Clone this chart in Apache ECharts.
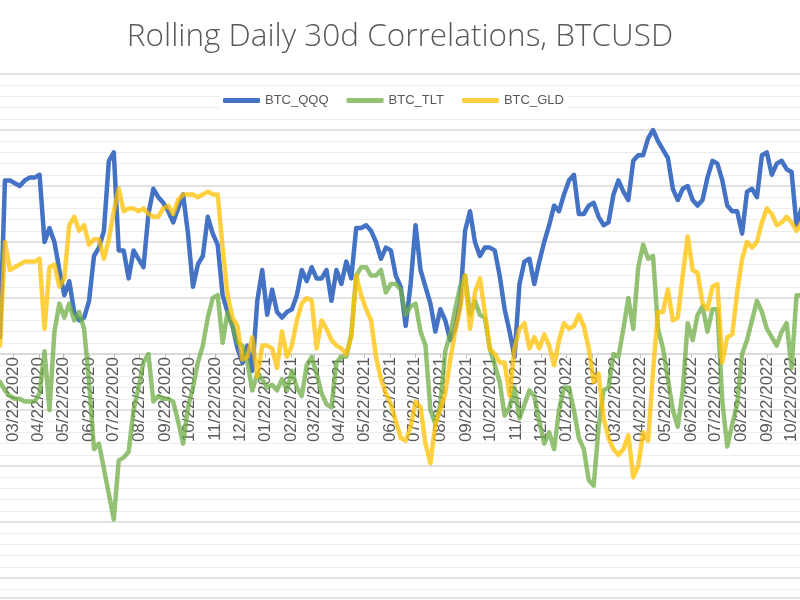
<!DOCTYPE html>
<html>
<head>
<meta charset="utf-8">
<script src="https://cdn.jsdelivr.net/npm/echarts@6/dist/echarts.min.js"></script>
<style>
html,body{margin:0;padding:0;background:#fff;}
#chart{width:800px;height:600px;}
</style>
</head>
<body>
<div id="chart"></div>
<script>
// Samples every 6 days starting 2020-03-06
const sampleStart = [2020, 2, 6];
const sampleStepDays = 6;

const seriesNames = ['BTC_QQQ', 'BTC_TLT', 'BTC_GLD'];

const qqq = [
  0.06, 0.62, 0.62, 0.61, 0.60, 0.62, 0.63, 0.63, 0.64, 0.40,
  0.45, 0.40, 0.30, 0.21, 0.26, 0.15, 0.12, 0.13, 0.19, 0.35,
  0.38, 0.44, 0.69, 0.72, 0.37, 0.37, 0.27, 0.37, 0.34, 0.31,
  0.50, 0.59, 0.56, 0.54, 0.51, 0.47, 0.52, 0.57, 0.43, 0.24, 0.32,
  0.35, 0.49, 0.43, 0.39, 0.21, 0.15, 0.10, 0.02, -0.03, 0.03,
  -0.06, 0.19, 0.30, 0.14, 0.23, 0.15, 0.13, 0.15, 0.16, 0.21,
  0.30, 0.26, 0.31, 0.27, 0.27, 0.30, 0.19, 0.30, 0.25, 0.33,
  0.27, 0.45, 0.45, 0.46, 0.44, 0.40, 0.34, 0.38, 0.37, 0.28,
  0.24, 0.10, 0.25, 0.46, 0.30, 0.24, 0.18, 0.08, 0.16, 0.12,
  0.05, 0.09, 0.18, 0.44, 0.51, 0.40, 0.35, 0.38, 0.38, 0.37,
  0.28, 0.16, 0.08, -0.01, 0.25, 0.33, 0.34, 0.25, 0.33, 0.40,
  0.46, 0.53, 0.51, 0.57, 0.62, 0.64, 0.50, 0.50, 0.53, 0.54, 0.49,
  0.46, 0.47, 0.57, 0.62, 0.58, 0.55, 0.69, 0.71, 0.71, 0.77,
  0.80, 0.76, 0.73, 0.70, 0.59, 0.55, 0.59, 0.60, 0.55, 0.53,
  0.55, 0.63, 0.69, 0.68, 0.62, 0.53, 0.51, 0.51, 0.43, 0.58,
  0.59, 0.56, 0.71, 0.72, 0.64, 0.68, 0.69, 0.66, 0.65, 0.46, 0.52
];

const tlt = [
  -0.10, -0.13, -0.15, -0.16, -0.16, -0.17, -0.17, -0.17, -0.14, 0.01,
  -0.20, 0.08, 0.18, 0.13, 0.18, 0.12, 0.15, 0.09, -0.10, -0.34,
  -0.32, -0.41, -0.50, -0.59, -0.38, -0.37, -0.35, -0.20, -0.12, -0.03,
  0.00, -0.17, -0.15, -0.16, -0.16, -0.17, -0.24, -0.32, -0.19, -0.12, -0.03,
  0.03, 0.13, 0.20, 0.21, 0.04, 0.15, 0.10, 0.04, 0.03, -0.03,
  -0.13, -0.07, -0.09, -0.12, -0.11, -0.13, -0.09, -0.13, -0.06, -0.12,
  -0.15, -0.04, -0.01, -0.07, -0.14, -0.18, -0.19, -0.03, -0.01, -0.01,
  0.07, 0.28, 0.31, 0.31, 0.28, 0.28, 0.30, 0.22, 0.25, 0.25,
  0.23, 0.14, 0.17, 0.18, 0.08, 0.03, -0.20, -0.25, -0.18, 0.01,
  0.07, 0.16, 0.24, 0.28, 0.14, 0.19, 0.14, 0.13, 0.02, -0.04,
  -0.10, -0.22, -0.19, -0.12, -0.23, -0.18, -0.13, -0.15, -0.24, -0.32,
  -0.28, -0.34, -0.20, -0.12, -0.12, -0.20, -0.30, -0.34, -0.45, -0.47, -0.26,
  -0.13, -0.12, 0.00, -0.01, 0.09, 0.20, 0.09, 0.31, 0.39, 0.34,
  0.35, 0.09, 0.02, -0.09, -0.20, -0.26, -0.13, 0.11, 0.05, 0.14,
  0.17, 0.08, 0.16, 0.16, -0.17, -0.33, -0.25, -0.18, 0.00, 0.05,
  0.12, 0.19, 0.15, 0.09, 0.06, 0.03, 0.08, 0.11, -0.05, 0.21, 0.21
];

const gld = [
  0.03, 0.40, 0.30, 0.31, 0.32, 0.33, 0.33, 0.33, 0.34, 0.09,
  0.31, 0.32, 0.24, 0.27, 0.46, 0.49, 0.44, 0.46, 0.39, 0.41,
  0.41, 0.34, 0.41, 0.51, 0.59, 0.51, 0.52, 0.52, 0.51, 0.52,
  0.50, 0.49, 0.49, 0.52, 0.53, 0.50, 0.55, 0.57, 0.57, 0.57, 0.56,
  0.57, 0.58, 0.57, 0.57, 0.38, 0.21, 0.13, 0.10, -0.02, -0.01,
  0.06, -0.08, 0.03, 0.03, 0.02, -0.05, 0.08, -0.01, 0.03, 0.12,
  0.18, 0.20, 0.19, 0.02, 0.12, 0.09, 0.05, 0.03, 0.02, 0.00,
  0.06, 0.28, 0.21, 0.16, 0.12, -0.01, -0.09, -0.14, -0.18, -0.24,
  -0.30, -0.31, -0.26, -0.17, -0.19, -0.32, -0.39, -0.25, -0.20, -0.14,
  -0.02, 0.08, 0.16, 0.28, 0.09, 0.22, 0.27, 0.15, 0.02, 0.00,
  -0.03, -0.03, -0.15, 0.02, 0.09, 0.11, 0.02, 0.06, 0.02, 0.07,
  0.03, -0.04, 0.05, 0.11, 0.09, 0.10, 0.14, 0.10, 0.02, -0.10, -0.07,
  -0.23, -0.30, -0.34, -0.36, -0.34, -0.29, -0.44, -0.40, -0.28, -0.31,
  -0.06, 0.15, 0.15, 0.23, 0.12, 0.13, 0.28, 0.42, 0.30, 0.29,
  0.18, 0.16, 0.24, 0.25, -0.03, 0.06, 0.07, 0.22, 0.34, 0.40,
  0.38, 0.40, 0.47, 0.52, 0.50, 0.46, 0.47, 0.49, 0.47, 0.44, 0.47
];

const tickLabels = [
  '03/22/2020','04/22/2020','05/22/2020','06/22/2020','07/22/2020','08/22/2020',
  '09/22/2020','10/22/2020','11/22/2020','12/22/2020','01/22/2021','02/22/2021',
  '03/22/2021','04/22/2021','05/22/2021','06/22/2021','07/22/2021','08/22/2021',
  '09/22/2021','10/22/2021','11/22/2021','12/22/2021','01/22/2022','02/22/2022',
  '03/22/2022','04/22/2022','05/22/2022','06/22/2022','07/22/2022','08/22/2022',
  '09/22/2022','10/22/2022'
];

const parseMDY = s => { const p = s.split('/'); return new Date(+p[2], +p[0] - 1, +p[1]).getTime(); };
const pad = n => (n < 10 ? '0' : '') + n;
const fmtMDY = v => { const d = new Date(v); return pad(d.getMonth() + 1) + '/' + pad(d.getDate()) + '/' + d.getFullYear(); };

const dates = qqq.map((_, i) => new Date(sampleStart[0], sampleStart[1], sampleStart[2] + sampleStepDays * i).getTime());
const tickValues = tickLabels.map(parseMDY);

const xMin = new Date(2020, 2, 6).getTime();
const xMax = new Date(2022, 10, 1, 5).getTime();

const colors = ['#4472C4', 'rgba(112,173,71,0.75)', 'rgba(255,192,0,0.75)'];
const values = [qqq, tlt, gld];

const chart = echarts.init(document.getElementById('chart'), null, { renderer: 'canvas' });
chart.setOption({
  animation: false,
  backgroundColor: '#fff',
  title: {
    text: 'Rolling Daily 30d Correlations, BTCUSD',
    left: 'center',
    top: 21,
    padding: 0,
    textStyle: { fontFamily: 'Open Sans', fontSize: 31.5, fontWeight: 300, color: '#595959' }
  },
  legend: {
    left: 220,
    top: 91,
    padding: [3, 3],
    backgroundColor: '#fff',
    itemGap: 18,
    itemWidth: 37,
    itemHeight: 5,
    icon: 'roundRect',
    textStyle: { fontFamily: 'Liberation Sans', fontSize: 13, color: '#595959' },
    data: seriesNames
  },
  grid: [
    { left: 0, right: 0, top: 74, height: 560, outerBoundsMode: 'none', containLabel: false },
    { left: 0, right: 0, top: 353, height: 1, outerBoundsMode: 'none', containLabel: false }
  ],
  xAxis: [
    {
      gridIndex: 0,
      type: 'value',
      min: xMin,
      max: xMax,
      show: false,
      splitLine: { show: false }
    },
    {
      gridIndex: 1,
      type: 'value',
      position: 'bottom',
      min: xMin,
      max: xMax,
      axisLine: { show: true, onZero: false, lineStyle: { color: '#d9d9d9', width: 1.5 } },
      axisTick: { show: true, length: 4, lineStyle: { color: '#bfbfbf' }, customValues: tickValues },
      axisLabel: {
        customValues: tickValues,
        rotate: 90,
        margin: 3,
        formatter: v => fmtMDY(v),
        fontFamily: 'Liberation Sans',
        fontSize: 17,
        color: '#595959',
        hideOverlap: false
      },
      splitLine: { show: false }
    }
  ],
  yAxis: [
    {
      gridIndex: 0,
      type: 'value',
      min: -1,
      max: 1,
      interval: 0.2,
      axisLabel: { show: false },
      axisLine: { show: false },
      axisTick: { show: false },
      splitLine: { show: true, lineStyle: { color: '#d9d9d9', width: 1.5 } },
      minorTick: { show: false, splitNumber: 5 },
      minorSplitLine: { show: true, lineStyle: { color: '#ededed', width: 1 } }
    },
    {
      gridIndex: 1,
      type: 'value',
      min: 0,
      max: 1,
      show: false,
      splitLine: { show: false }
    }
  ],
  series: seriesNames.map((name, k) => ({
    name: name,
    type: 'line',
    xAxisIndex: 0,
    yAxisIndex: 0,
    showSymbol: false,
    symbol: 'none',
    smooth: false,
    clip: true,
    z: 3,
    color: colors[k],
    lineStyle: { width: 4.5, color: colors[k], cap: 'round', join: 'round' },
    data: dates.map((d, i) => [d, values[k][i]]),
    markLine: k === 0 ? {
      silent: true,
      symbol: 'none',
      label: { show: false },
      lineStyle: { color: '#d9d9d9', width: 1.5, type: 'solid' },
      data: [{ yAxis: -0.872 }]
    } : undefined
  }))
});
</script>
</body>
</html>
